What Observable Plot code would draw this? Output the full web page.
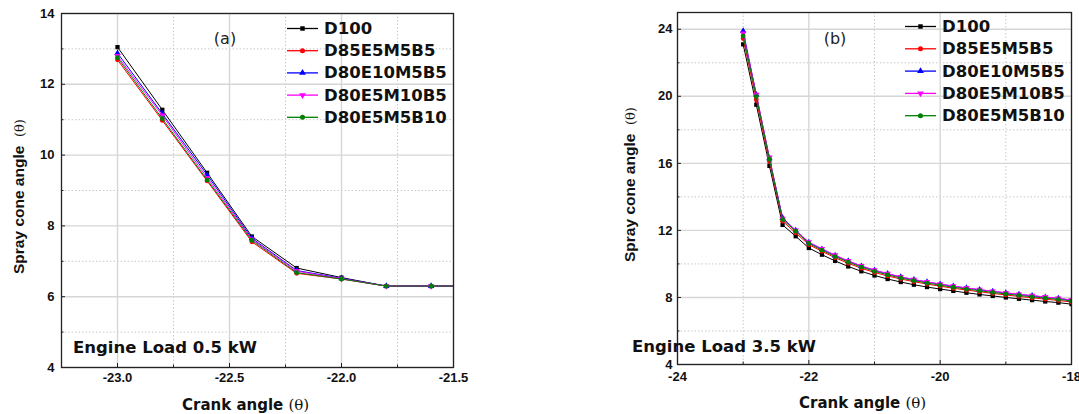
<!DOCTYPE html>
<html>
<head>
<meta charset="utf-8">
<script src="https://cdn.jsdelivr.net/npm/d3@7"></script>
<script src="https://cdn.jsdelivr.net/npm/@observablehq/plot@0.6"></script>
<style>
  html, body { margin: 0; padding: 0; background: #fff; }
  #wrap { position: relative; width: 1079px; height: 414px; overflow: hidden; }
  #wrap > div { position: absolute; top: 0; }
</style>
</head>
<body>
<div id="wrap"><div id="pa" style="left:0px"></div><div id="pb" style="left:540px"></div></div>
<script>
// ---------- data ----------
const seriesNames = ["D100", "D85E5M5B5", "D80E10M5B5", "D80E5M10B5", "D80E5M5B10"];
const seriesColors = ["#000000", "#ff0000", "#0000ff", "#ff00ff", "#008000"];

// Panel (a): Engine Load 0.5 kW
const crankA = [-23.0, -22.8, -22.6, -22.4, -22.2, -22.0, -21.8, -21.6, -21.4];
const a_D100       = [13.05, 11.28, 9.50, 7.70, 6.81, 6.54, 6.30, 6.30, 6.30];
const a_D85E5M5B5  = [12.69, 10.98, 9.27, 7.55, 6.66, 6.50, 6.30, 6.30, 6.30];
const a_D80E10M5B5 = [12.88, 11.17, 9.44, 7.65, 6.74, 6.52, 6.30, 6.30, 6.30];
const a_D80E5M10B5 = [12.80, 11.12, 9.36, 7.62, 6.72, 6.51, 6.30, 6.30, 6.30];
const a_D80E5M5B10 = [12.75, 11.03, 9.30, 7.59, 6.68, 6.50, 6.30, 6.30, 6.30];

// Panel (b): Engine Load 3.5 kW
const crankB = [-23.0, -22.8, -22.6, -22.4, -22.2, -22.0, -21.8, -21.6, -21.4, -21.2, -21.0, -20.8, -20.6,
                -20.4, -20.2, -20.0, -19.8, -19.6, -19.4, -19.2, -19.0, -18.8, -18.6, -18.4, -18.2, -18.0];
const b_D100       = [23.10, 19.50, 15.85, 12.33, 11.65, 10.95, 10.55, 10.18, 9.85, 9.56, 9.31, 9.10, 8.92,
                      8.76, 8.62, 8.50, 8.39, 8.28, 8.18, 8.09, 8.00, 7.92, 7.84, 7.76, 7.69, 7.60];
const b_D85E5M5B5  = [23.45, 19.80, 16.10, 12.55, 11.85, 11.15, 10.75, 10.37, 10.04, 9.74, 9.49, 9.28, 9.10,
                      8.94, 8.80, 8.67, 8.55, 8.44, 8.34, 8.24, 8.15, 8.06, 7.98, 7.90, 7.82, 7.73];
const b_D80E10M5B5 = [23.90, 20.10, 16.30, 12.75, 12.00, 11.28, 10.88, 10.50, 10.17, 9.87, 9.62, 9.41, 9.22,
                      9.06, 8.92, 8.79, 8.67, 8.56, 8.46, 8.36, 8.27, 8.18, 8.10, 8.02, 7.94, 7.84];
const b_D80E5M10B5 = [23.75, 20.10, 16.35, 12.70, 12.00, 11.30, 10.90, 10.52, 10.18, 9.88, 9.63, 9.42, 9.23,
                      9.07, 8.93, 8.80, 8.68, 8.57, 8.47, 8.37, 8.28, 8.19, 8.11, 8.03, 7.95, 7.85];
const b_D80E5M5B10 = [23.60, 20.00, 16.25, 12.65, 11.95, 11.22, 10.82, 10.44, 10.11, 9.81, 9.56, 9.35, 9.16,
                      9.00, 8.86, 8.73, 8.61, 8.50, 8.40, 8.30, 8.21, 8.12, 8.04, 7.96, 7.88, 7.79];

// axis ticks
const a_xMajor = [-23.0, -22.5, -22.0, -21.5];
const a_xMinor = [-23.25, -22.75, -22.25, -21.75];
const a_yMajor = [4, 6, 8, 10, 12, 14];
const a_yMinor = [5, 7, 9, 11, 13];
const b_xMajor = [-24, -22, -20, -18];
const b_xMinor = [-23, -21, -19];
const b_yMajor = [4, 8, 12, 16, 20, 24];
const b_yMinor = [6, 10, 14, 18, 22];

// ---------- drawing ----------
const ARIAL = "'Liberation Sans', Arial, Helvetica, sans-serif";
const WIDE = "'DejaVu Sans', Verdana, sans-serif";
const SERIF = "'DejaVu Serif', 'Liberation Serif', serif";
const symbols = ["square", "circle", "triangle", "triangle", "circle"];
const rotates = [0, 0, 0, 180, 0];

function buildRows(xs, ys) {
  return xs.map((x, i) => ({x, y: ys[i]}));
}

function panel(opts) {
  const {el, width, margins, xDomain, yDomain, series, xs, xMajor, xMinor, yMajor, yMinor, xFmt,
         xPad, yPad, tag, tagPos, load, loadPos, legendPos, legendStep, xLabelPos, yLabelPos} = opts;
  const marks = [
    Plot.gridX(xMinor, {stroke: "#c8c8c8", strokeOpacity: 1, strokeDasharray: "1.5,2"}),
    Plot.gridY(yMinor, {stroke: "#c8c8c8", strokeOpacity: 1, strokeDasharray: "1.5,2"}),
    Plot.gridX(xMajor, {stroke: "#d6d6d6", strokeOpacity: 1, strokeWidth: 1.4}),
    Plot.gridY(yMajor, {stroke: "#d6d6d6", strokeOpacity: 1, strokeWidth: 1.4})
  ];
  series.forEach((ys, i) => {
    const rows = buildRows(xs, ys);
    marks.push(Plot.line(rows, {x: "x", y: "y", stroke: seriesColors[i], strokeWidth: 1, clip: true}));
    marks.push(Plot.dot(rows, {x: "x", y: "y", fill: seriesColors[i], stroke: "none", r: 2.4,
      symbol: symbols[i], rotate: rotates[i], clip: true}));
  });
  marks.push(
    Plot.frame({stroke: "#222", strokeWidth: 1.3}),
    Plot.axisX(xMajor, {tickSize: -4, tickPadding: xPad, tickFormat: xFmt, fontWeight: "bold", fontSize: 13, stroke: "#222"}),
    Plot.axisX(xMinor, {tickSize: -2.5, tickFormat: () => "", stroke: "#222"}),
    Plot.axisY(yMajor, {tickSize: -4, tickPadding: yPad, tickFormat: d => String(d), fontWeight: "bold", fontSize: 13, stroke: "#222"}),
    Plot.axisY(yMinor, {tickSize: -2.5, tickFormat: () => "", stroke: "#222"})
  );
  const svg = Plot.plot({
    width, height: 414,
    marginLeft: margins[0], marginRight: margins[1], marginTop: margins[2], marginBottom: margins[3],
    style: {fontFamily: ARIAL, background: "white", color: "#111", overflow: "visible"},
    x: {domain: xDomain, label: null},
    y: {domain: yDomain, label: null},
    marks
  });
  const g = d3.select(svg);
  // axis labels
  const xl = g.append("text").attr("x", xLabelPos[0]).attr("y", xLabelPos[1])
    .attr("text-anchor", "start").attr("font-family", WIDE).attr("font-size", 15).attr("fill", "#111");
  xl.append("tspan").attr("font-weight", "bold").text("Crank angle ");
  xl.append("tspan").attr("font-family", SERIF).attr("font-size", 15).attr("font-weight", "normal").text("(θ)");
  const yl = g.append("text").attr("transform", `translate(${yLabelPos[0]},${yLabelPos[1]}) rotate(-90)`)
    .attr("text-anchor", "start").attr("font-family", ARIAL).attr("font-size", 15.5).attr("fill", "#111");
  yl.append("tspan").attr("font-weight", "bold").text("Spray cone angle  ");
  yl.append("tspan").attr("font-family", SERIF).attr("font-size", 13).attr("font-weight", "normal").text("(θ)");
  // panel tag
  g.append("text").attr("x", tagPos[0]).attr("y", tagPos[1]).attr("text-anchor", "middle")
    .attr("font-family", WIDE).attr("font-size", 16).attr("fill", "#222").text(tag);
  // load annotation
  g.append("text").attr("x", loadPos[0]).attr("y", loadPos[1]).attr("text-anchor", "start")
    .attr("font-family", WIDE).attr("font-size", 16.5).attr("font-weight", "bold").attr("fill", "#111").text(load);
  // legend
  const sym = d3.symbol().size(20);
  const symMap = {square: d3.symbolSquare, circle: d3.symbolCircle, triangle: d3.symbolTriangle};
  seriesNames.forEach((name, i) => {
    const y = legendPos[1] + i * legendStep;
    const lg = g.append("g");
    lg.append("line").attr("x1", legendPos[0]).attr("x2", legendPos[0] + 31).attr("y1", y).attr("y2", y)
      .attr("stroke", seriesColors[i]).attr("stroke-width", 1.3);
    lg.append("path").attr("d", sym.type(symMap[symbols[i]])())
      .attr("transform", `translate(${legendPos[0] + 15.5},${y}) rotate(${rotates[i]})`).attr("fill", seriesColors[i]);
    lg.append("text").attr("x", legendPos[0] + 37).attr("y", y).attr("dy", "0.33em").attr("text-anchor", "start")
      .attr("font-family", WIDE).attr("font-size", 16.5).attr("font-weight", "bold").attr("fill", "#111").text(name);
  });
  document.getElementById(el).appendChild(svg);
}

panel({
  el: "pa", width: 540, margins: [61, 87, 13, 47],
  xDomain: [-23.25, -21.5], yDomain: [4, 14],
  xs: crankA, series: [a_D100, a_D85E5M5B5, a_D80E10M5B5, a_D80E5M10B5, a_D80E5M5B10],
  xMajor: a_xMajor, xMinor: a_xMinor, yMajor: a_yMajor, yMinor: a_yMinor, xFmt: d => d.toFixed(1),
  xPad: 9, yPad: 11,
  tag: "(a)", tagPos: [225, 44], load: "Engine Load 0.5 kW", loadPos: [73, 353],
  legendPos: [287, 28.5], legendStep: 22.2, xLabelPos: [182, 410], yLabelPos: [24, 274]
});

panel({
  el: "pb", width: 539, margins: [137, 8, 12, 50],
  xDomain: [-24, -18], yDomain: [4, 25],
  xs: crankB, series: [b_D100, b_D85E5M5B5, b_D80E10M5B5, b_D80E5M10B5, b_D80E5M5B10],
  xMajor: b_xMajor, xMinor: b_xMinor, yMajor: b_yMajor, yMinor: b_yMinor, xFmt: d => String(d),
  xPad: 11, yPad: 9,
  tag: "(b)", tagPos: [295, 44], load: "Engine Load 3.5 kW", loadPos: [92, 352],
  legendPos: [365, 26.5], legendStep: 22.3, xLabelPos: [259, 408], yLabelPos: [95, 262]
});
</script>
</body>
</html>
